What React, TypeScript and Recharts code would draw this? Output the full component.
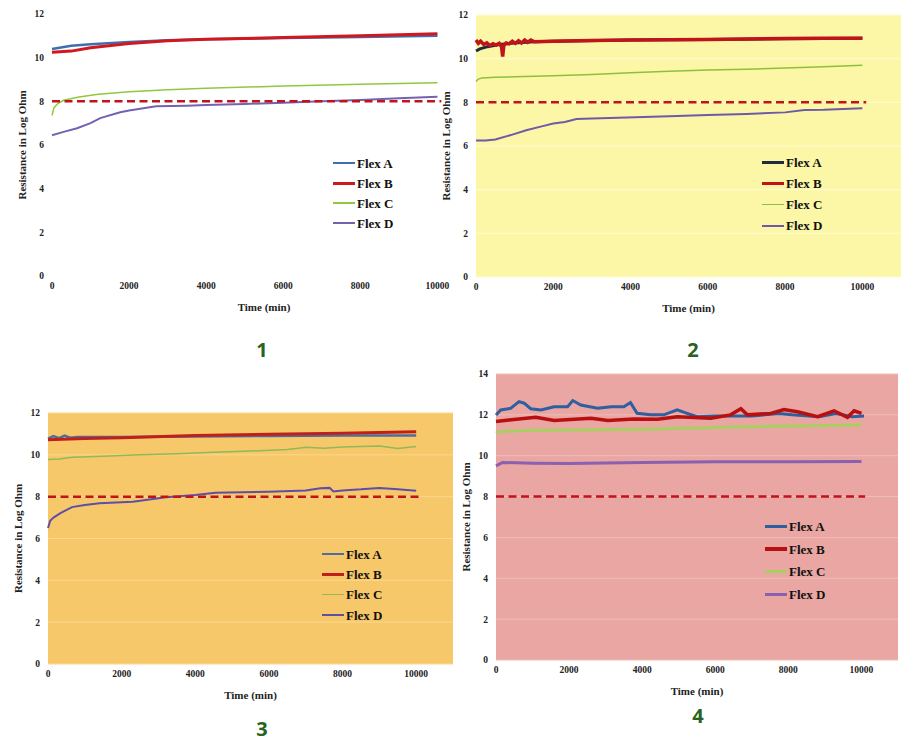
import React from "react";
import { CartesianGrid, Legend, Line, LineChart, XAxis, YAxis } from "recharts";

// shared axis ticks
const timeTicks = [0, 2000, 4000, 6000, 8000, 10000];
const yTicks12 = [0, 2, 4, 6, 8, 10, 12];
const yTicks14 = [0, 2, 4, 6, 8, 10, 12, 14];
const seriesNames = ["Flex A", "Flex B", "Flex C", "Flex D"];
const panelLabels = ["1", "2", "3", "4"];

// 8 log-ohm threshold (dashed)
const thresholdTime = [0, 10100];
const thresholdValue = [8, 8];

// panel 1
const p1ATime = [0, 500, 1000, 2000, 3000, 4000, 6000, 8000, 10000];
const p1AValue = [10.4, 10.55, 10.62, 10.72, 10.8, 10.84, 10.9, 10.95, 11.0];
const p1BTime = [0, 500, 1000, 2000, 3000, 4000, 6000, 8000, 10000];
const p1BValue = [10.25, 10.3, 10.45, 10.65, 10.77, 10.84, 10.92, 11.0, 11.1];
const p1CTime = [0, 50, 150, 300, 700, 1200, 2000, 3000, 4000, 6000, 8000, 10000];
const p1CValue = [7.35, 7.7, 7.9, 8.05, 8.2, 8.32, 8.44, 8.53, 8.6, 8.7, 8.78, 8.85];
const p1DTime = [0, 300, 650, 1000, 1250, 1770, 2000, 2700, 3500, 4000, 5000, 6000, 7000, 8000, 9000, 10000];
const p1DValue = [6.45, 6.6, 6.77, 7.0, 7.23, 7.5, 7.58, 7.77, 7.8, 7.83, 7.88, 7.94, 8.0, 8.06, 8.14, 8.21];

// panel 2
const p2ATime = [0, 100, 300, 600, 1000, 1500, 2000, 4000, 6000, 8000, 10000];
const p2AValue = [10.35, 10.45, 10.55, 10.65, 10.72, 10.78, 10.8, 10.86, 10.88, 10.91, 10.93];
const p2BTime = [0, 60, 120, 200, 280, 360, 440, 520, 600, 660, 690, 720, 780, 860, 940, 1020, 1100, 1180, 1260, 1340, 1420, 1500, 2000, 3000, 4000, 5000, 6000, 7000, 8000, 9000, 10000];
const p2BValue = [10.85, 10.7, 10.8, 10.65, 10.72, 10.6, 10.68, 10.62, 10.7, 10.55, 10.1, 10.6, 10.72, 10.68, 10.8, 10.7, 10.82, 10.72, 10.85, 10.75, 10.85, 10.78, 10.8, 10.83, 10.86, 10.87, 10.88, 10.9, 10.92, 10.93, 10.93];
const p2CTime = [0, 50, 150, 500, 1000, 2000, 3000, 4000, 5000, 6000, 7000, 8000, 9000, 10000];
const p2CValue = [8.95, 9.05, 9.12, 9.15, 9.17, 9.22, 9.28, 9.35, 9.42, 9.48, 9.52, 9.57, 9.63, 9.7];
const p2DTime = [0, 250, 500, 900, 1300, 1700, 2000, 2300, 2600, 3000, 3900, 5000, 6000, 7000, 8000, 8500, 9000, 10000];
const p2DValue = [6.25, 6.25, 6.3, 6.5, 6.72, 6.9, 7.03, 7.1, 7.24, 7.26, 7.31, 7.36, 7.42, 7.47, 7.54, 7.65, 7.66, 7.73];

// panel 3
const p3ATime = [0, 150, 300, 450, 600, 800, 2000, 4000, 6000, 8000, 10000];
const p3AValue = [10.78, 10.9, 10.8, 10.92, 10.82, 10.85, 10.85, 10.88, 10.9, 10.92, 10.92];
const p3BTime = [0, 1000, 2000, 4000, 6000, 8000, 10000];
const p3BValue = [10.72, 10.78, 10.82, 10.92, 10.98, 11.03, 11.1];
const p3CTime = [0, 300, 650, 1500, 2500, 3500, 4500, 5500, 6500, 6800, 7000, 7500, 8000, 8500, 9000, 9300, 9500, 10000];
const p3CValue = [9.78, 9.8, 9.88, 9.93, 10.0, 10.05, 10.12, 10.18, 10.25, 10.32, 10.36, 10.32, 10.38, 10.4, 10.42, 10.35, 10.3, 10.4];
const p3DTime = [0, 60, 150, 350, 650, 1000, 1400, 2300, 2500, 3200, 4000, 4550, 6000, 7000, 7400, 7650, 7750, 8000, 8500, 9000, 9500, 10000];
const p3DValue = [6.5, 6.85, 7.0, 7.22, 7.5, 7.6, 7.68, 7.76, 7.8, 7.97, 8.08, 8.19, 8.24, 8.3, 8.4, 8.42, 8.25, 8.3, 8.35, 8.42, 8.35, 8.28];

// panel 4
const p4ATime = [0, 130, 400, 630, 770, 950, 1230, 1590, 1960, 2100, 2320, 2780, 3150, 3500, 3680, 3860, 4230, 4590, 4960, 5230, 5500, 6000, 7000, 7740, 8100, 8840, 9300, 9750, 10070];
const p4AValue = [11.99, 12.24, 12.32, 12.65, 12.57, 12.3, 12.24, 12.4, 12.4, 12.7, 12.48, 12.32, 12.4, 12.4, 12.6, 12.08, 12.0, 12.0, 12.24, 12.07, 11.91, 11.94, 11.94, 12.07, 12.0, 11.91, 12.07, 11.91, 11.94];
const p4BTime = [0, 360, 1090, 1590, 2600, 3060, 3780, 4420, 4960, 5880, 6420, 6700, 6880, 7520, 7880, 8250, 8800, 9250, 9620, 9800, 10000];
const p4BValue = [11.67, 11.75, 11.88, 11.72, 11.83, 11.72, 11.8, 11.78, 11.91, 11.83, 12.0, 12.3, 12.0, 12.07, 12.26, 12.15, 11.91, 12.2, 11.88, 12.2, 12.07];
const p4CTime = [0, 100, 770, 2000, 4000, 6000, 8000, 10000];
const p4CValue = [11.1, 11.18, 11.23, 11.26, 11.3, 11.38, 11.46, 11.5];
const p4DTime = [0, 180, 1000, 2000, 4000, 6000, 8000, 10000];
const p4DValue = [9.5, 9.67, 9.63, 9.62, 9.67, 9.7, 9.7, 9.72];

const pts = (t: number[], v: number[]) => t.map((x, i) => ({ t: x, v: v[i] }));

const SERIF = "'Liberation Serif', 'DejaVu Serif', serif";

type Series = { name: string; data: { t: number; v: number }[]; color: string; width: number };

type PanelProps = {
  left: number;
  top: number;
  width: number;
  height: number;
  margin: { top: number; right: number; bottom: number; left: number };
  bg?: string;
  grid?: string;
  yMax: number;
  yTicks: number[];
  series: Series[];
  legend: { left: number; top: number; row: number };
};

function Panel(p: PanelProps) {
  const tick = { fontSize: 9.5, fontFamily: SERIF, fontWeight: 700, fill: "#222" };
  const widths: Record<string, number> = {};
  p.series.forEach((s) => (widths[s.name] = s.width));
  return (
    <div style={{ position: "absolute", left: p.left, top: p.top, width: p.width, height: p.height }}>
      <LineChart width={p.width} height={p.height} margin={p.margin}>
        {p.bg && <CartesianGrid horizontal vertical={false} fill={p.bg} stroke={p.grid} strokeWidth={1} />}
        <XAxis
          type="number"
          dataKey="t"
          domain={[0, 11000]}
          ticks={timeTicks}
          interval={0}
          axisLine={false}
          tickLine={false}
          tickMargin={0}
          height={40}
          tick={tick}
          label={(lp: any) => {
            const vb = lp.viewBox;
            return (
              <text
                x={vb.x + vb.width / 2}
                y={vb.y + 31}
                textAnchor="middle"
                dominantBaseline="central"
                style={{ fontSize: 11, fontFamily: SERIF, fontWeight: 700, fill: "#222" }}
              >
                Time (min)
              </text>
            );
          }}
        />
        <YAxis
          type="number"
          domain={[0, p.yMax]}
          ticks={p.yTicks}
          interval={0}
          axisLine={false}
          tickLine={false}
          width={30}
          tick={tick}
          label={(lp: any) => {
            const vb = lp.viewBox;
            const cx = vb.x;
            const cy = vb.y + vb.height / 2;
            return (
              <text
                x={cx}
                y={cy}
                transform={`rotate(-90 ${cx} ${cy})`}
                textAnchor="middle"
                dominantBaseline="central"
                style={{ fontSize: 11, fontFamily: SERIF, fontWeight: 700, fill: "#222" }}
              >
                Resistance in Log Ohm
              </text>
            );
          }}
        />
        {p.series.map((s) => (
          <Line
            key={s.name}
            name={s.name}
            data={s.data}
            dataKey="v"
            type="linear"
            stroke={s.color}
            strokeWidth={s.width}
            dot={false}
            activeDot={false}
            isAnimationActive={false}
          />
        ))}
        <Line
          name="threshold"
          data={pts(thresholdTime, thresholdValue)}
          dataKey="v"
          type="linear"
          stroke="#c0141c"
          strokeWidth={2.5}
          strokeDasharray="8 4.5"
          dot={false}
          activeDot={false}
          legendType="none"
          isAnimationActive={false}
        />
        <Legend
          layout="vertical"
          align="center"
          verticalAlign="middle"
          wrapperStyle={{ left: p.legend.left, top: p.legend.top, width: 110 }}
          content={(lp: any) => (
            <div>
              {(lp.payload || [])
                .filter((e: any) => e.value !== "threshold" && e.type !== "none")
                .map((e: any) => (
                  <div key={e.value} style={{ display: "flex", alignItems: "center", height: p.legend.row }}>
                    <span
                      style={{
                        display: "inline-block",
                        width: 22,
                        height: widths[e.value] ?? 2,
                        background: e.color,
                        marginRight: 2,
                      }}
                    />
                    <span style={{ fontFamily: SERIF, fontWeight: 700, fontSize: 13, color: "#111", lineHeight: 1 }}>
                      {e.value}
                    </span>
                  </div>
                ))}
            </div>
          )}
        />
      </LineChart>
    </div>
  );
}

const numberStyle = (x: number, y: number): React.CSSProperties => ({
  position: "absolute",
  left: x - 20,
  top: y - 13,
  width: 40,
  height: 26,
  textAlign: "center",
  lineHeight: "26px",
  fontFamily: "'Open Sans', 'Noto Sans', sans-serif",
  fontWeight: 700,
  fontSize: 20,
  color: "#2a6320",
});

export default function App() {
  const mk = (names: string[], data: { t: number; v: number }[][], colors: string[], widths: number[]): Series[] =>
    names.map((n, i) => ({ name: n, data: data[i], color: colors[i], width: widths[i] }));

  const s1 = mk(
    seriesNames,
    [pts(p1ATime, p1AValue), pts(p1BTime, p1BValue), pts(p1CTime, p1CValue), pts(p1DTime, p1DValue)],
    ["#3f6fae", "#d0181e", "#92c83e", "#7561b2"],
    [2.5, 3, 1.5, 2]
  );
  const s2 = mk(
    seriesNames,
    [pts(p2ATime, p2AValue), pts(p2BTime, p2BValue), pts(p2CTime, p2CValue), pts(p2DTime, p2DValue)],
    ["#1f2c3c", "#c0141c", "#8fbf3f", "#6f5aa8"],
    [3, 3.5, 1.5, 2]
  );
  const s3 = mk(
    seriesNames,
    [pts(p3ATime, p3AValue), pts(p3BTime, p3BValue), pts(p3CTime, p3CValue), pts(p3DTime, p3DValue)],
    ["#4f6d9c", "#c0201c", "#8fb95a", "#5e4ea8"],
    [2.5, 3, 1.5, 2]
  );
  const s4 = mk(
    seriesNames,
    [pts(p4ATime, p4AValue), pts(p4BTime, p4BValue), pts(p4CTime, p4CValue), pts(p4DTime, p4DValue)],
    ["#2f5f9e", "#b81010", "#a8d060", "#8a60b0"],
    [3, 3.5, 3, 3]
  );

  return (
    <div style={{ position: "absolute", left: 0, top: 0, width: 920, height: 751, background: "#fff", overflow: "hidden" }}>
      <Panel
        left={0}
        top={0}
        width={480}
        height={330}
        margin={{ top: 14, right: 4, bottom: 14, left: 22 }}
        yMax={12}
        yTicks={yTicks12}
        series={s1}
        legend={{ left: 333, top: 153, row: 20 }}
      />
      <Panel
        left={435}
        top={0}
        width={470}
        height={330}
        margin={{ top: 15, right: 4, bottom: 13, left: 11 }}
        bg="#fcf7a6"
        grid="#fffbd2"
        yMax={12}
        yTicks={yTicks12}
        series={s2}
        legend={{ left: 327, top: 152, row: 21 }}
      />
      <Panel
        left={0}
        top={380}
        width={460}
        height={330}
        margin={{ top: 33, right: 7, bottom: 6, left: 18 }}
        bg="#f7c869"
        grid="#fbd890"
        yMax={12}
        yTicks={yTicks12}
        series={s3}
        legend={{ left: 322, top: 164, row: 20.3 }}
      />
      <Panel
        left={455}
        top={360}
        width={450}
        height={340}
        margin={{ top: 14, right: 7, bottom: 0, left: 11 }}
        bg="#e9a6a2"
        grid="#f0bdb9"
        yMax={14}
        yTicks={yTicks14}
        series={s4}
        legend={{ left: 310, top: 155, row: 22.7 }}
      />
      <div style={numberStyle(262, 350)}>{panelLabels[0]}</div>
      <div style={numberStyle(693, 350)}>{panelLabels[1]}</div>
      <div style={numberStyle(262, 729)}>{panelLabels[2]}</div>
      <div style={numberStyle(698, 716)}>{panelLabels[3]}</div>
    </div>
  );
}
